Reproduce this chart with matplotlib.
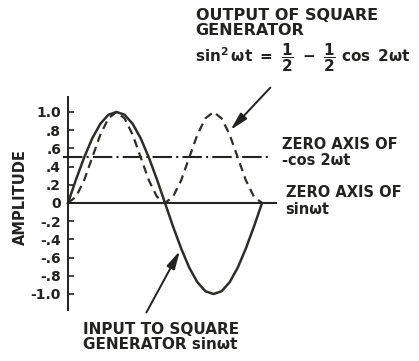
import numpy as np
import matplotlib
matplotlib.use('Agg')
import matplotlib.pyplot as plt

plt.rcParams['font.family'] = ['DejaVu Sans']
plt.rcParams['font.weight'] = 'bold'
plt.rcParams['mathtext.fontset'] = 'custom'
plt.rcParams['mathtext.rm'] = 'DejaVu Sans:bold'
plt.rcParams['mathtext.it'] = 'DejaVu Sans:bold'
plt.rcParams['mathtext.bf'] = 'DejaVu Sans:bold'
plt.rcParams['lines.scale_dashes'] = False

# phase angle (degrees) of one full cycle
phase = [0, 15, 30, 45, 60, 75, 90, 105, 120, 135, 150, 165, 180,
         195, 210, 225, 240, 255, 270, 285, 300, 315, 330, 345, 360]

# input to square generator: sin wt
sin_in = [0, .26, .50, .71, .87, .97, 1.00, .97, .87, .71, .50, .26, 0,
          -.26, -.50, -.71, -.87, -.97, -1.00, -.97, -.87, -.71, -.50, -.26, 0]

# output of square generator: sin^2 wt
sq_out = [0, .07, .25, .50, .75, .93, 1.00, .93, .75, .50, .25, .07, 0,
          .07, .25, .50, .75, .93, 1.00, .93, .75, .50, .25, .07, 0]

# zero axes
sin_axis = [0, 388]
cos_axis = [-9, 375]
cos_level = 0.51

ytick_vals = [1.0, .8, .6, .4, .2, 0, -.2, -.4, -.6, -.8, -1.0]
ytick_labels = ['1.0', '.8', '.6', '.4', '.2', '0', '-.2', '-.4', '-.6', '-.8', '-1.0']

ink = '#222220'

fig = plt.figure(figsize=(4.19, 3.61), dpi=100)
ax = fig.add_axes([0.1365, 0.1352, 0.5403, 0.605])
ax.set_xlim(-20, 400)
ax.set_ylim(-1.2, 1.2)

# axis frame: only a vertical amplitude axis at phase 0
for side in ['top', 'right', 'bottom']:
    ax.spines[side].set_visible(False)
ax.spines['left'].set_position(('data', 0))
ax.spines['left'].set_bounds(-1.18, 1.16)
ax.spines['left'].set_linewidth(1.4)
ax.spines['left'].set_color(ink)
ax.set_xticks([])
ax.set_yticks(ytick_vals)
ax.set_yticklabels(ytick_labels, fontsize=10, fontweight='bold', color=ink)
ax.tick_params(axis='y', direction='in', length=4, width=1.2, pad=5, colors=ink)

# zero lines
ax.plot(sin_axis, [0, 0], color=ink, lw=1.5, solid_capstyle='butt')
ax.plot(cos_axis, [cos_level, cos_level], color=ink, lw=1.5,
        dashes=(14, 3, 1.5, 3))

# curves
ax.plot(phase, sin_in, color='#2e2e28', lw=1.8)
ax.plot(phase, sq_out, color='#2e2e28', lw=1.6, dashes=(6, 4))

ax.text(-89, 0.07, 'AMPLITUDE', rotation=90, ha='center', va='center',
        fontsize=10.5, fontweight='bold', color=ink)

# output annotation
ax.annotate('', xy=(298, 0.78), xytext=(379, 1.29),
            arrowprops=dict(arrowstyle='-|>,head_length=0.9,head_width=0.22',
                            color=ink, lw=1.4, mutation_scale=12),
            annotation_clip=False)
ax.text(237, 2.14, 'OUTPUT OF SQUARE\nGENERATOR', ha='left', va='top',
        fontsize=11.5, fontweight='bold', color=ink, linespacing=1.0)
ax.text(235, 1.60, r'$\sin^2\omega t\ =\ \dfrac{1}{2}\ -\ \dfrac{1}{2}\ \cos\ 2\omega t$',
        ha='left', va='center', fontsize=11, color=ink)

# zero axis labels
ax.text(397, 0.725, 'ZERO AXIS OF\n-cos 2ωt', ha='left', va='top',
        fontsize=10.5, fontweight='bold', color=ink, linespacing=1.05)
ax.text(404, 0.198, 'ZERO AXIS OF\nsinωt', ha='left', va='top',
        fontsize=10.5, fontweight='bold', color=ink, linespacing=1.15)

# input annotation
ax.annotate('', xy=(210, -0.50), xytext=(143, -1.23),
            arrowprops=dict(arrowstyle='-|>,head_length=0.9,head_width=0.22',
                            color=ink, lw=1.4, mutation_scale=12),
            annotation_clip=False)
ax.text(28, -1.31, 'INPUT TO SQUARE\nGENERATOR sinωt', ha='left', va='top',
        fontsize=11, fontweight='bold', color=ink, linespacing=1.0)

fig.savefig('out.png', dpi=100)
